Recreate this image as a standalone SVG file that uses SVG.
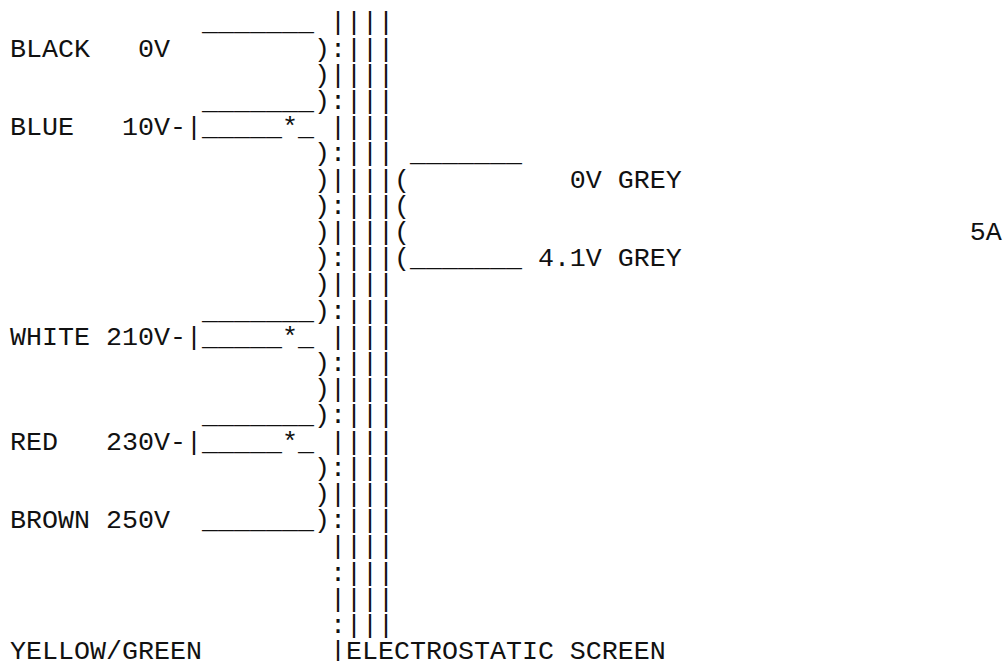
<svg xmlns="http://www.w3.org/2000/svg" width="1005" height="661" viewBox="0 0 1005 661">
<style>
text{font-family:"Courier New","Liberation Mono",monospace;font-size:26.67px;fill:#111;white-space:pre}
</style>
<rect width="1005" height="661" fill="#fff"/>
<g id="ascii" xml:space="preserve">
<text x="10" y="30.3">            _______ ||||</text>
<text x="10" y="56.5">BLACK   0V         ):|||</text>
<text x="10" y="82.7">                   )||||</text>
<text x="10" y="108.9">            _______):|||</text>
<text x="10" y="135.1">BLUE   10V-|_____*_ ||||</text>
<text x="10" y="161.3">                   ):||| _______</text>
<text x="10" y="187.5">                   )||||(          0V GREY</text>
<text x="10" y="213.7">                   ):|||(</text>
<text x="10" y="239.9">                   )||||(                                   5A</text>
<text x="10" y="266.1">                   ):|||(_______ 4.1V GREY</text>
<text x="10" y="292.3">                   )||||</text>
<text x="10" y="318.5">            _______):|||</text>
<text x="10" y="344.7">WHITE 210V-|_____*_ ||||</text>
<text x="10" y="370.9">                   ):|||</text>
<text x="10" y="397.1">                   )||||</text>
<text x="10" y="423.3">            _______):|||</text>
<text x="10" y="449.5">RED   230V-|_____*_ ||||</text>
<text x="10" y="475.7">                   ):|||</text>
<text x="10" y="501.9">                   )||||</text>
<text x="10" y="528.1">BROWN 250V  _______):|||</text>
<text x="10" y="554.3">                    ||||</text>
<text x="10" y="580.5">                    :|||</text>
<text x="10" y="606.7">                    ||||</text>
<text x="10" y="632.9">                    :|||</text>
<text x="10" y="658.5">YELLOW/GREEN        |ELECTROSTATIC SCREEN</text>
</g>
</svg>
